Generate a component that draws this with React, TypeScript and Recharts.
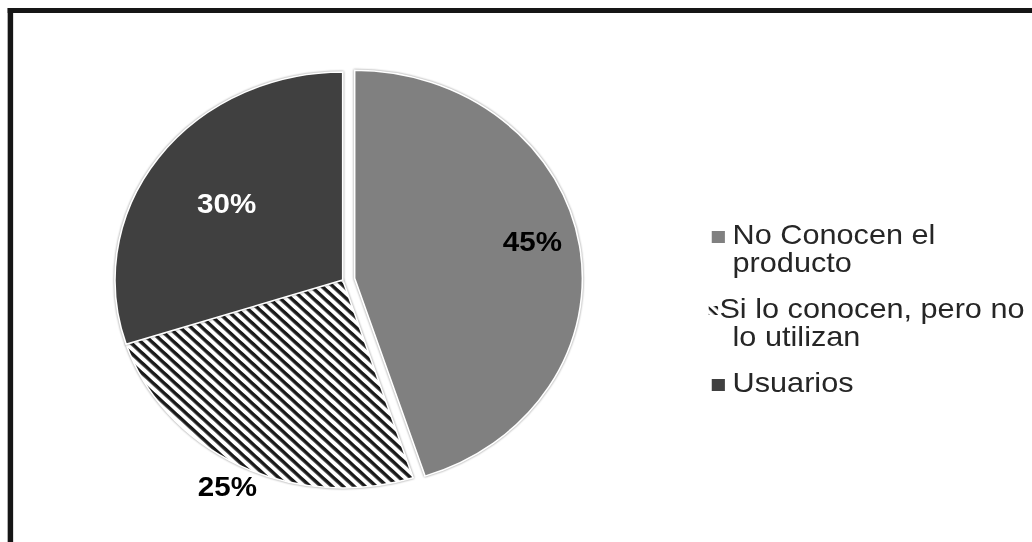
import { PieChart, Pie, Cell, Legend, Sector } from "recharts";

const categories = [
  "No Conocen el producto",
  "Si lo conocen, pero no lo utilizan",
  "Usuarios",
];
const values = [45, 25, 30];

const data = categories.map((name, i) => ({ name, value: values[i] }));

const FONT = '"Liberation Sans", Arial, sans-serif';
const FILLS = ["#808080", "url(#hatch)", "#404040"];
const LABEL_COLORS = ["#000", "#000", "#fff"];
// how far out each percentage sits, as a share of the radius
const LABEL_RADIUS = [0.79, 1.115, 0.63];
const LABEL_NUDGE_Y = [-11, 0, 0];
const EXPLODE = 11;
// the source picture is a little wider than tall
const STRETCH = 1.095;
const RAD = Math.PI / 180;

const offsetFor = (exploded: boolean, midAngle: number) =>
  exploded
    ? { dx: EXPLODE * Math.cos(-midAngle * RAD), dy: EXPLODE * Math.sin(-midAngle * RAD) }
    : { dx: 0, dy: 0 };

const renderSector = (props: any) => {
  const name = props.payload?.name ?? props.name;
  const { dx, dy } = offsetFor(name === categories[0], props.midAngle);
  return (
    <g
      transform={`translate(${dx},${dy})`}
      style={{ filter: "drop-shadow(0 0 1.2px rgba(0,0,0,0.45))" }}>
      <Sector {...props} />
    </g>
  );
};

const renderLabel = (props: any) => {
  const { cx, cy, midAngle, outerRadius, value, name } = props;
  const index = props.index ?? categories.indexOf(name);
  const { dx, dy } = offsetFor(index === 0, midAngle);
  const r = outerRadius * LABEL_RADIUS[index];
  const x = cx + dx + r * Math.cos(-midAngle * RAD);
  const y = cy + dy + r * Math.sin(-midAngle * RAD) + LABEL_NUDGE_Y[index];
  return (
    <text
      x={x}
      y={y}
      fill={LABEL_COLORS[index]}
      textAnchor="middle"
      dominantBaseline="central"
      fontFamily={FONT}
      fontWeight="bold"
      fontSize={27}>
      {`${value}%`}
    </text>
  );
};

const Marker = ({ index }: { index: number }) => {
  if (index === 1) {
    return (
      <svg
        style={{ position: "absolute", left: -3, top: 11, width: 9, height: 9 }}
        width={9}
        height={9}>
        <defs>
          <pattern
            id="hatch-legend"
            width={5.5}
            height={5.5}
            patternUnits="userSpaceOnUse"
            patternTransform="rotate(45)">
            <rect width={5.5} height={5.5} fill="#fff" />
            <rect width={5.5} height={2.2} fill="#1a1a1a" />
          </pattern>
        </defs>
        <rect width={9} height={9} fill="url(#hatch-legend)" />
      </svg>
    );
  }
  return (
    <div
      style={{
        position: "absolute",
        left: 0,
        top: 10,
        width: 12,
        height: 12,
        background: FILLS[index],
      }}
    />
  );
};

const renderLegend = ({ payload }: any) => (
  <div
    style={{
      fontFamily: FONT,
      fontSize: 28,
      lineHeight: "28px",
      color: "#262626",
      textAlign: "left",
    }}>
    {(payload ?? []).map((entry: any, i: number) => (
      <div
        key={entry.value}
        style={{
          position: "relative",
          paddingLeft: 19,
          width: 288,
          marginBottom: 18,
          textIndent: i === 1 ? -12 : 0,
        }}>
        <Marker index={i} />
        {entry.value}
      </div>
    ))}
  </div>
);

export default function App() {
  return (
    <div
      style={{
        position: "absolute",
        left: 0,
        top: 0,
        width: 1032,
        height: 542,
        overflow: "hidden",
        background: "#fff",
      }}>
      <div
        style={{
          position: "absolute",
          left: 0,
          top: 0,
          width: 942,
          height: 542,
          transform: `scaleX(${STRETCH})`,
          transformOrigin: "0 0",
        }}>
        <div
          style={{
            position: "absolute",
            left: 6.7,
            top: 8.3,
            width: 1200,
            height: 800,
            borderTop: "5px solid #161616",
            borderLeft: "5px solid #161616",
          }}
        />
        <PieChart
          width={942}
          height={542}
          margin={{ top: 0, right: 0, bottom: 0, left: 0 }}>
          <defs>
            <pattern
              id="hatch"
              width={7.1}
              height={7.1}
              patternUnits="userSpaceOnUse"
              patternTransform="rotate(45)">
              <rect width={7.1} height={7.1} fill="#fff" />
              <rect width={7.1} height={3.3} fill="#1a1a1a" />
            </pattern>
          </defs>
          <Pie
            data={data}
            dataKey="value"
            nameKey="name"
            cx={313}
            cy={280}
            outerRadius={208}
            startAngle={90}
            endAngle={-270}
            stroke="#fff"
            strokeWidth={1.5}
            labelLine={false}
            label={renderLabel}
            shape={renderSector}
            isAnimationActive={false}>
            {data.map((d, i) => (
              <Cell key={d.name} fill={FILLS[i]} />
            ))}
          </Pie>
          <Legend
            layout="vertical"
            align="right"
            verticalAlign="middle"
            content={renderLegend}
            wrapperStyle={{
              left: 650,
              top: 221,
              right: "auto",
              bottom: "auto",
              width: 310,
            }}
          />
        </PieChart>
      </div>
    </div>
  );
}
